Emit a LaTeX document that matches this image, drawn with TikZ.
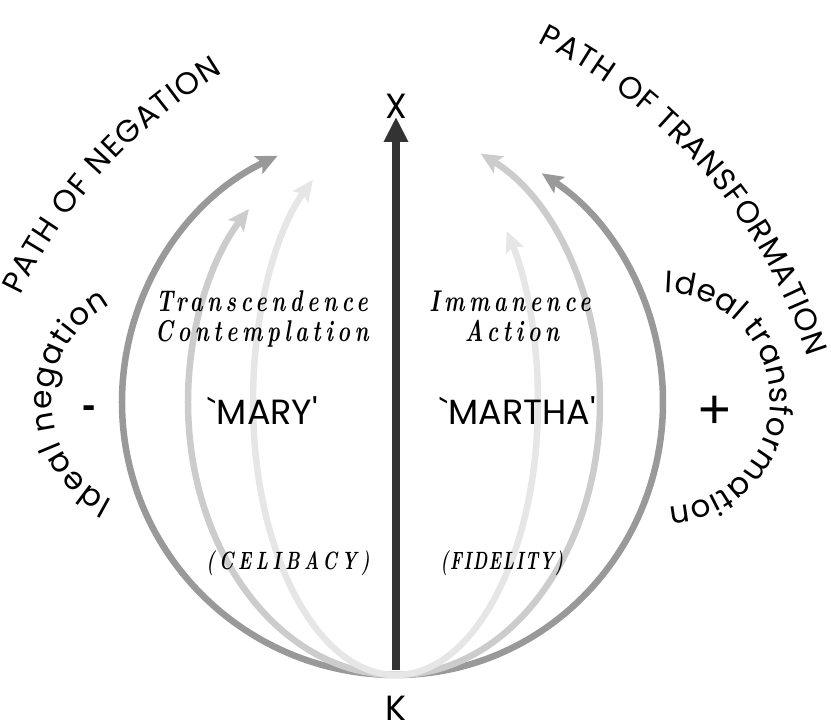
\documentclass[tikz,border=0pt]{standalone}
\usepackage{fontspec}
\usetikzlibrary{arrows.meta,positioning,calc,decorations.text}
\newfontfamily\gothfont{Poppins}[Ligatures=TeXOff]
\newfontfamily\signfont{Liberation Sans}
\newfontfamily\notefont{lmroman10-bolditalic}[Extension=.otf, FakeStretch=0.72, LetterSpace=15]
\newfontfamily\capnotefont{lmroman10-bolditalic}[Extension=.otf, FakeStretch=0.7, LetterSpace=18]
\newfontfamily\tightnotefont{lmroman10-bolditalic}[Extension=.otf, FakeStretch=0.66, LetterSpace=6]
\definecolor{axisgray}{HTML}{333333}
\definecolor{arcdark}{HTML}{999999}
\definecolor{arcmid}{HTML}{CCCCCC}
\definecolor{arclight}{HTML}{E6E6E6}

\begin{document}
\begin{tikzpicture}[
    x=1pt, y=1pt,
    axisarrow/.style={
        -{Triangle[length=25pt,width=23pt]}, line width=8pt, draw=axisgray
    },
    patharc/.style={
        -{Stealth[length=21pt,width=19pt,inset=4pt]}, line width=6.5pt
    },
    pole/.style={
        font=\gothfont\fontsize{35}{35}\selectfont, inner sep=0pt
    },
    persona/.style={
        font=\gothfont\fontsize{35}{35}\selectfont, inner sep=0pt, anchor=base
    },
    note/.style={
        font=\notefont\fontsize{30}{30}\selectfont, inner sep=0pt, anchor=base
    },
    capnote/.style={
        font=\capnotefont\fontsize{25}{25}\selectfont, inner sep=0pt, anchor=base
    },
    sign/.style={
        font=\signfont, inner sep=0pt
    },
    arctext/.style={
        decorate, decoration={text along path, text align={fit to path}}
    }
]

\useasboundingbox (-396,-323) rectangle (435,402);

% --- poles of the axis ---
\coordinate (kpt) at (0,-273);
\coordinate (kbase) at (0,-268);
\coordinate (xtip) at (0,285);

% --- left paths (negation), outer to inner ---
\draw[patharc, draw=arcdark]  (kpt) arc[start angle=270, end angle=115.6, x radius=274, y radius=273];
\draw[patharc, draw=arcmid]   (kpt) arc[start angle=270, end angle=135,   x radius=208, y radius=273];
% --- right paths (transformation), outer to inner ---
\draw[patharc, draw=arcdark]  (kpt) arc[start angle=-90, end angle=56.9,  x radius=267, y radius=273];
\draw[patharc, draw=arcmid]   (kpt) arc[start angle=-90, end angle=65.5,  x radius=204, y radius=273];
\draw[patharc, draw=arclight] (kpt) arc[start angle=270, end angle=125.5, x radius=143, y radius=273];
\draw[patharc, draw=arclight] (kpt) arc[start angle=-90, end angle=38.8,  x radius=142, y radius=273];

% --- central axis K -> X ---
\draw[axisarrow] (kbase) -- (xtip);
\node[pole] (xlab) at (0,295.5) {X};
\node[pole] (klab) at (0,-306.5) {K};

% --- the two ways ---
\node[note] (trans) at (-134,90) {Transcendence};
\node[note] (contemp) at ($(trans.base)+(0,-30)$) {Contemplation};
\node[note] (imman) at (114,90) {Immanence};
\node[note] (action) at ($(imman.base)+(2,-30)$) {Action};

\node[persona] (mary) at (-133,-23) {`MARY'};
\node[persona] (martha) at (122,-23) {`MARTHA'};

\node[capnote] (celib) at (-108,-168) {(CELIBACY)};
\node[capnote, font=\tightnotefont\fontsize{25}{25}\selectfont] (fidel) at (106,-168) {(FIDELITY)};

% --- signs ---
\node[sign, font=\signfont\bfseries\fontsize{40}{40}\selectfont] (minus) at (-307,-10) {-};
\node[sign, font=\signfont\fontsize{56}{56}\selectfont] (plus) at (319,-10) {+};

% --- curved captions ---
\path[arctext, decoration={text={|\gothfont\fontsize{31}{31}\selectfont|Ideal negation}}]
  (-234,0) ++(243:110) arc[start angle=243, end angle=118, radius=110];
\path[arctext, decoration={text={|\gothfont\fontsize{31}{31}\selectfont|Ideal transformation}}]
  (267,2) ++(89:107) arc[start angle=89, end angle=-87, radius=107];
\path[arctext, decoration={text={|\gothfont\fontsize{31}{31}\selectfont|PATH OF NEGATION}}]
  (100,-123) ++(154.3:528) arc[start angle=154.3, end angle=121.2, radius=528];
\path[arctext, decoration={text={|\gothfont\fontsize{31}{31}\selectfont|PATH OF TRANSFORMATION}}]
  (-100,-121) ++(63.3:538) arc[start angle=63.3, end angle=18, radius=538];

\end{tikzpicture}
\end{document}
